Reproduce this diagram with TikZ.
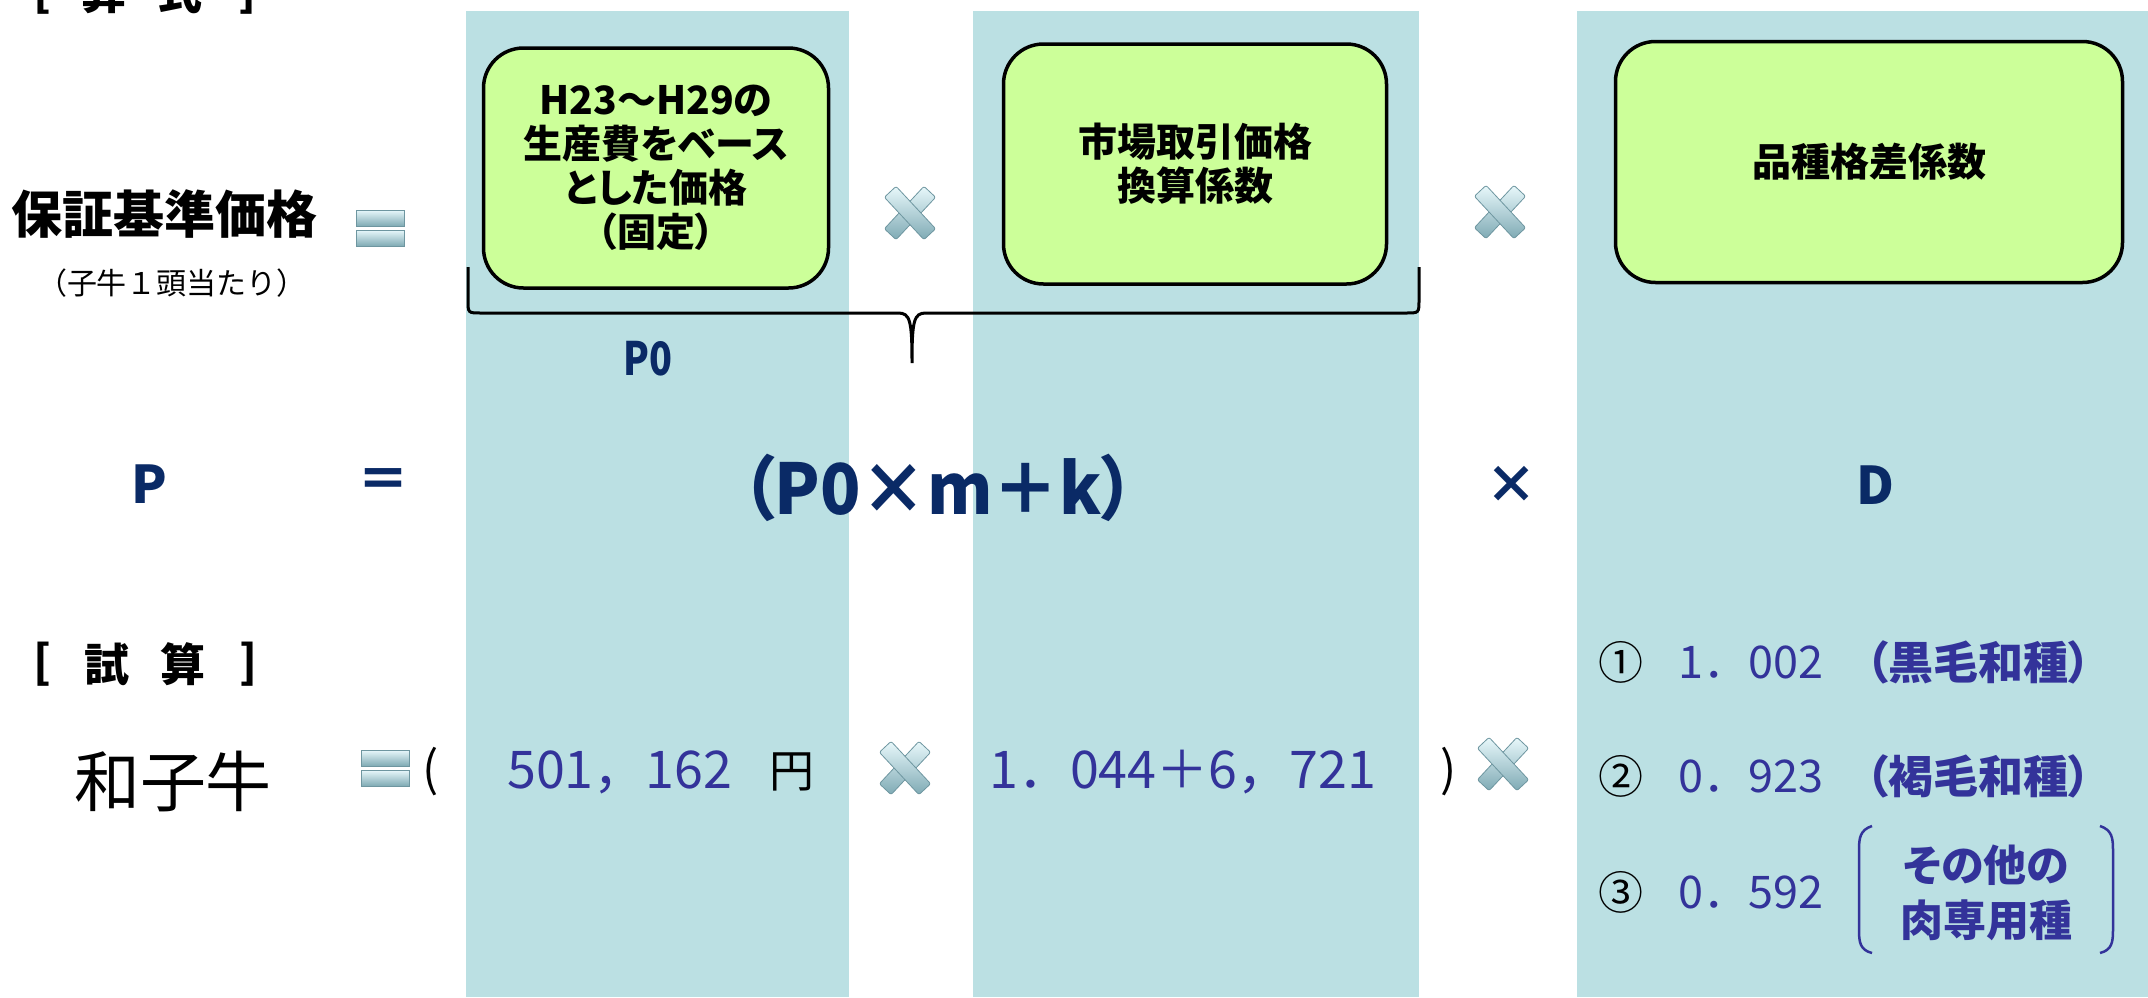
\documentclass[tikz,border=0pt]{standalone}
\usepackage{fontspec}
\setmainfont{Noto Sans CJK JP}
\newfontfamily\jp[RawFeature=+palt]{Noto Sans CJK JP}
\definecolor{band}{HTML}{BBE0E3}
\definecolor{gboxfill}{HTML}{CCFF99}
\definecolor{navy}{HTML}{0A2A66}
\definecolor{numblue}{HTML}{33339A}
\definecolor{iconlight}{HTML}{E8F8FB}
\definecolor{icondark}{HTML}{7FAAB4}
\definecolor{iconedge}{HTML}{6E96A0}
\tikzset{
  gbox/.style={draw=black, line width=3.5pt, fill=gboxfill, rounded corners=40pt,
    align=center, inner sep=0pt, font=\jp\bfseries\fontsize{39}{44}\selectfont},
  navytxt/.style={text=navy, inner sep=0pt, font=\jp\bfseries\fontsize{52}{60}\selectfont},
  bluetxt/.style={text=numblue, inner sep=0pt, font=\fontsize{52}{60}\selectfont},
  dtxt/.style={text=numblue, inner sep=0pt, font=\fontsize{45}{50}\selectfont},
  blacktxt/.style={text=black, inner sep=0pt},
  crossicon/.pic={
    \foreach \a in {47,-47}{
      \shade[rotate=\a, top color=iconlight, bottom color=icondark, draw=iconedge,
        line width=0.8pt, rounded corners=2pt] (-29,-8) rectangle (29,8);
    }
  },
  eqicon/.pic={
    \shade[top color=iconlight, bottom color=icondark, draw=iconedge, line width=0.8pt]
      (-24,-18) rectangle (24,-2);
    \shade[top color=iconlight, bottom color=icondark, draw=iconedge, line width=0.8pt]
      (-24,2) rectangle (24,18);
  }
}
\begin{document}
\begin{tikzpicture}[x=1pt,y=-1pt]
\useasboundingbox (0,0) rectangle (2148,997);
% bands
\fill[band] (466,11) rectangle (849,997);
\fill[band] (973,11) rectangle (1419,997);
\fill[band] (1577,11) rectangle (2148,997);

% headings
\begin{scope}[every node/.style={blacktxt, font=\jp\bfseries\fontsize{45}{50}\selectfont}]
\node (h1a) at (42,-8) {[};
\node (h1b) at (104,-8) {算};
\node (h1c) at (180,-8) {式};
\node (h1d) at (247,-8) {]};
\node (h2a) at (42,664) {[};
\node (h2b) at (107,664) {試};
\node (h2c) at (183,664) {算};
\node (h2d) at (248,664) {]};
\end{scope}

% row 1
\node[blacktxt, font=\jp\bfseries\fontsize{51}{56}\selectfont] (hosho) at (165,214) {保証基準価格};
\node[blacktxt, font=\fontsize{30}{34}\selectfont] (kogyu) at (172,283) {（子牛１頭当たり）};
\pic at (380,228) {eqicon};

\node[gbox, minimum width=345pt, minimum height=240pt] (b1) at (656,168)
  {H23～H29の\\生産費をベース\\とした価格\\（固定）};
\node[gbox, minimum width=383pt, minimum height=240pt] (b2) at (1195,164)
  {市場取引価格\\換算係数};
\node[gbox, minimum width=507pt, minimum height=241pt] (b3) at (1869,162)
  {品種格差係数};
\pic at (910,213) {crossicon};
\pic at (1500,212) {crossicon};

% brace
\coordinate (brl) at (468,267);
\coordinate (brr) at (1419,267);
\coordinate (brtip) at (912,363);
\draw[line width=3pt] (brl) -- (468,300) .. controls (468,313) .. (481,313) -- (898,313)
  .. controls (910,313) and (912,320) .. (brtip)
  .. controls (912,320) and (914,313) .. (926,313) -- (1406,313)
  .. controls (1419,313) .. (1419,300) -- (brr);
\node[navytxt, font=\jp\bfseries\fontsize{46}{50}\selectfont] (p0) at (648,359) {\scalebox{0.82}[1]{P0}};

% row 2
\node[navytxt] (P) at (149,484) {P};
\node[navytxt] (eq2) at (383,484) {＝};
\node[navytxt, font=\jp\bfseries\fontsize{70}{76}\selectfont] (formula) at (938,488) {\scalebox{0.95}[1]{（P0×m＋k）}};
\node[navytxt] (times2) at (1511,485) {×};
\node[navytxt] (D) at (1875,485) {D};

% row 3
\node[blacktxt, font=\jp\fontsize{66}{70}\selectfont] (wagyu) at (173,782) {和子牛};
\pic at (385,768) {eqicon};
\node[blacktxt, font=\jp\fontsize{48}{50}\selectfont, anchor=west] (lpar) at (422,772) {(};
\node[bluetxt, anchor=west] (v1) at (507,772) {501，162};
\node[blacktxt, font=\jp\fontsize{45}{50}\selectfont] (yen) at (792,772) {円};
\pic at (905,768) {crossicon};
\node[bluetxt, anchor=west] (v2) at (989,772) {1．044＋6，721};
\node[blacktxt, font=\jp\fontsize{48}{50}\selectfont] (rpar) at (1449,772) {)};
\pic at (1503,764) {crossicon};

% D list
\begin{scope}[every node/.style={blacktxt, font=\fontsize{45}{50}\selectfont}]
\node (c1) at (1621,662) {①};
\node (c2) at (1621,776) {②};
\node (c3) at (1621,892) {③};
\end{scope}
\node[dtxt, anchor=west] (d1) at (1678,662) {1．002};
\node[dtxt, anchor=west, font=\jp\bfseries\fontsize{45}{50}\selectfont] (d1n) at (1866,662) {（黒毛和種）};
\node[dtxt, anchor=west] (d2) at (1678,776) {0．923};
\node[dtxt, anchor=west, font=\jp\bfseries\fontsize{45}{50}\selectfont] (d2n) at (1866,776) {（褐毛和種）};
\node[dtxt, anchor=west] (d3) at (1678,892) {0．592};
\node[dtxt, font=\jp\bfseries\fontsize{43}{55}\selectfont, align=center] (d3n) at (1986,893) {その他の\\肉専用種};
\draw[numblue, line width=2.5pt] (1872,826) .. controls (1860,830) and (1859,838) .. (1859,850)
  -- (1859,930) .. controls (1859,942) and (1860,950) .. (1872,953);
\draw[numblue, line width=2.5pt] (2100,826) .. controls (2112,830) and (2113,838) .. (2113,850)
  -- (2113,930) .. controls (2113,942) and (2112,950) .. (2100,953);
\end{tikzpicture}
\end{document}
